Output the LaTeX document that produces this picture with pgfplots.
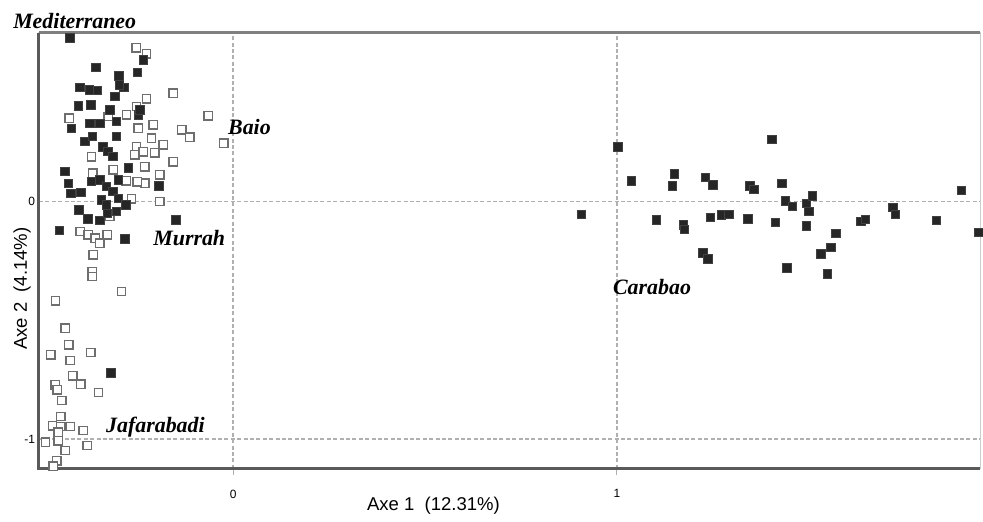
\documentclass[border=0pt]{standalone}
\usepackage{pgfplots}
\pgfplotsset{compat=1.18}
\usepackage{pgfplotstable}
\usepackage{fontspec}
\setmainfont{Liberation Sans}
\newfontfamily\serifit{Liberation Serif}

\definecolor{filledsq}{HTML}{262626}
\definecolor{filledrim}{HTML}{404040}
\definecolor{opensq}{HTML}{6E6E6E}
\definecolor{framedark}{HTML}{5A5A5A}
\definecolor{frametop}{HTML}{808080}
\definecolor{gridc}{HTML}{B0B0B0}

% open squares (Mediterraneo / Murrah / Jafarabadi ...)
\pgfplotstableread{
x y
-0.253 0.648
-0.226 0.622
-0.156 0.456
-0.226 0.432
-0.252 0.400
-0.065 0.361
-0.427 0.351
-0.278 0.365
-0.326 0.358
-0.208 0.323
-0.134 0.302
-0.113 0.271
-0.024 0.246
-0.247 0.309
-0.213 0.267
-0.182 0.239
-0.204 0.206
-0.252 0.231
-0.234 0.210
-0.256 0.197
-0.156 0.168
-0.369 0.189
-0.230 0.147
-0.313 0.133
-0.191 0.112
-0.230 0.077
-0.250 0.084
-0.279 0.087
-0.366 0.120
-0.265 0.011
-0.191 0.000
-0.321 -0.063
-0.399 -0.126
-0.378 -0.140
-0.360 -0.154
-0.347 -0.175
-0.328 -0.140
-0.365 -0.224
-0.367 -0.295
-0.367 -0.316
-0.291 -0.379
-0.463 -0.418
-0.438 -0.533
-0.428 -0.603
-0.475 -0.645
-0.425 -0.669
-0.371 -0.636
-0.418 -0.734
-0.397 -0.769
-0.464 -0.771
-0.458 -0.793
-0.447 -0.838
-0.351 -0.804
-0.449 -0.905
-0.471 -0.944
-0.449 -0.947
-0.425 -0.947
-0.391 -0.964
-0.456 -0.972
-0.489 -1.013
-0.456 -1.007
-0.438 -1.048
-0.380 -1.027
-0.460 -1.091
-0.469 -1.115
}\opentab

% filled squares, left cluster
\pgfplotstableread{
x y
-0.425 0.690
-0.358 0.566
-0.298 0.529
-0.249 0.543
-0.234 0.596
-0.399 0.481
-0.375 0.470
-0.353 0.467
-0.308 0.442
-0.285 0.481
-0.297 0.491
-0.404 0.403
-0.371 0.407
-0.321 0.386
-0.304 0.337
-0.247 0.365
-0.243 0.386
-0.421 0.309
-0.373 0.330
-0.347 0.330
-0.386 0.253
-0.366 0.274
-0.339 0.231
-0.326 0.210
-0.313 0.189
-0.304 0.274
-0.273 0.141
-0.438 0.126
-0.430 0.077
-0.423 0.035
-0.397 0.038
-0.369 0.084
-0.347 0.091
-0.330 0.063
-0.313 0.042
-0.343 0.007
-0.330 -0.014
-0.299 0.014
-0.279 -0.014
-0.402 -0.035
-0.378 -0.073
-0.347 -0.080
-0.328 -0.049
-0.304 -0.042
-0.193 0.066
-0.149 -0.077
-0.453 -0.122
-0.282 -0.158
-0.299 0.091
-0.319 -0.722
}\filledtab

% filled squares, Carabao
\pgfplotstableread{
x y
0.907 -0.053
1.003 0.231
1.038 0.087
1.103 -0.077
1.150 0.117
1.144 0.066
1.174 -0.098
1.176 -0.116
1.230 0.103
1.250 0.070
1.224 -0.217
1.237 -0.242
1.244 -0.067
1.272 -0.056
1.292 -0.053
1.341 -0.073
1.346 0.066
1.357 0.052
1.404 0.263
1.413 -0.088
1.430 0.077
1.439 0.003
1.458 -0.021
1.443 -0.280
1.493 -0.102
1.493 -0.007
1.510 0.024
1.500 -0.042
1.532 -0.221
1.558 -0.192
1.571 -0.133
1.548 -0.304
1.636 -0.084
1.648 -0.074
1.719 -0.024
1.726 -0.053
1.833 -0.080
1.897 0.046
1.943 -0.130
}\carabaotab

\begin{document}
\begin{tikzpicture}
\begin{axis}[
  scale only axis,
  width=471bp, height=218bp,
  xmin=-0.506, xmax=1.947,
  ymin=-1.125, ymax=0.710,
  xtick={0,1}, ytick={-1,0},
  xtick pos=bottom, ytick pos=left,
  tick align=outside,
  major tick length=3bp,
  xtick style={gridc, line width=0.5bp},
  ytick style={draw=none},
  grid=major,
  major grid style={gridc, line width=0.7bp, dash pattern=on 2bp off 1.2bp},
  axis line style={gray!40, line width=0.5bp},
  /pgf/number format/assume math mode=true,
  ticklabel style={font=\fontsize{6}{7}\selectfont},
  xticklabel style={yshift=-4bp},
  yticklabel style={xshift=4.5bp},
  xlabel={Axe 1\ \ (12.31\%)},
  ylabel={Axe 2\ \ (4.14\%)},
  label style={font=\fontsize{9.3}{11}\selectfont},
  xlabel style={at={(axis description cs:0.419,0)}, anchor=base, yshift=-21bp},
  ylabel style={at={(axis description cs:0,0.413)}, anchor=base, yshift=6bp},
  clip=false,
]
\addplot[only marks, mark=square*, mark size=2.1bp,
  mark options={fill=white, draw=opensq, line width=0.7bp, line join=miter, solid}]
  table {\opentab};
\addplot[only marks, mark=square*, mark size=2.1bp,
  mark options={fill=filledsq, draw=filledrim, line width=0.4bp, line join=miter, solid}]
  table {\filledtab};
\addplot[only marks, mark=square*, mark size=2.1bp,
  mark options={fill=filledsq, draw=filledrim, line width=0.4bp, line join=miter, solid}]
  table {\carabaotab};

\draw[frametop, line width=1.5bp] (rel axis cs:1,1) -- (rel axis cs:0,1);
\draw[framedark, line width=1.5bp] (rel axis cs:0,1) -- (rel axis cs:0,0) -- (rel axis cs:1,0);

\begin{scope}[every node/.style={font=\serifit\bfseries\itshape\fontsize{11}{13}\selectfont, anchor=west, inner sep=0pt}]
\node at (axis cs:-0.574,0.760) {Mediterraneo};
\node at (axis cs:-0.014,0.314) {Baio};
\node at (axis cs:-0.209,-0.153) {Murrah};
\node at (axis cs:-0.332,-0.952) {Jafarabadi};
\node at (axis cs:0.989,-0.359) {Carabao};
\end{scope}
\end{axis}
\path[use as bounding box] ([xshift=-19.5bp,yshift=-25bp]current axis.south west)
  rectangle ([xshift=1bp,yshift=16.5bp]current axis.north east);
\end{tikzpicture}
\end{document}
